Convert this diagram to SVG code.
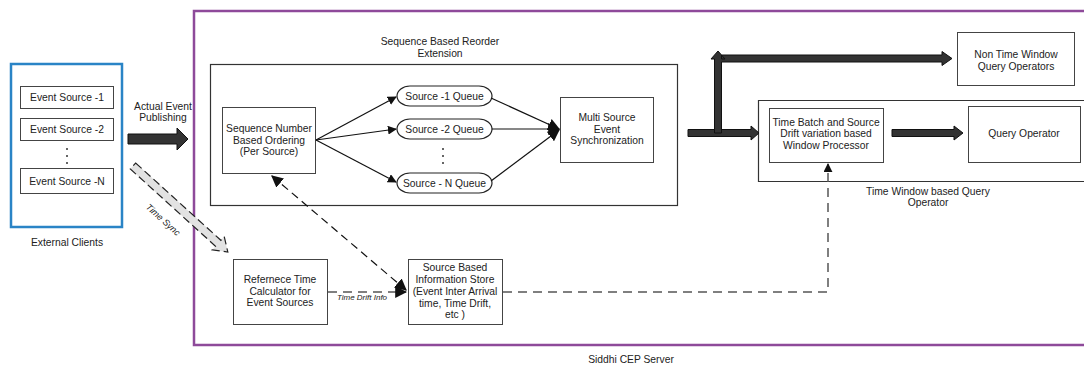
<svg xmlns="http://www.w3.org/2000/svg" width="1084" height="365" viewBox="0 0 1084 365">
<style>
text{font-family:"Liberation Sans",Arial,sans-serif;font-size:10.3px;fill:#222;text-anchor:middle}
.box{fill:#fff;stroke:#444;stroke-width:1}
.cont{fill:none;stroke:#333;stroke-width:1.2}
.q{fill:#fff;stroke:#222;stroke-width:1.2}
.ln{fill:none;stroke:#111;stroke-width:1.2}
.dash{fill:none;stroke:#111;stroke-width:1.2;stroke-dasharray:8 5}
.gdash{fill:none;stroke:#555;stroke-width:1.5;stroke-dasharray:9 6}
.fat{fill:#333;stroke:#111;stroke-width:1}
.it{font-style:italic;font-size:8px}
.ts{font-style:italic;font-size:9px}
.dot{fill:#333}
</style>
<defs>
<marker id="ah" viewBox="0 0 10 10" refX="9" refY="5" markerWidth="9" markerHeight="9" markerUnits="userSpaceOnUse" orient="auto-start-reverse"><path d="M0,0 L10,5 L0,10 z" fill="#111"/></marker>
<marker id="ahb" viewBox="0 0 10 10" refX="9" refY="5" markerWidth="12" markerHeight="12" markerUnits="userSpaceOnUse" orient="auto-start-reverse"><path d="M0,0 L10,5 L0,10 z" fill="#111"/></marker>
</defs>

<g id="server">
<path d="M1090,11 L194,11 L194,345 L1090,345" fill="none" stroke="#8e4a9a" stroke-width="2.5"/>
<text x="631" y="363">Siddhi CEP Server</text>
</g>

<g id="external-clients">
<rect x="11" y="64" width="111" height="163" fill="none" stroke="#2a84c6" stroke-width="2.5"/>
<text x="67" y="246">External Clients</text>
</g>
<g id="event-source-1"><rect class="box" x="20.5" y="86.5" width="93" height="22"/><text x="67" y="101">Event Source -1</text></g>
<g id="event-source-2"><rect class="box" x="20.5" y="118.5" width="93" height="22"/><text x="67" y="133">Event Source -2</text></g>
<g id="event-dots"><circle class="dot" cx="67" cy="149" r="1"/><circle class="dot" cx="67" cy="156" r="1"/><circle class="dot" cx="67" cy="163" r="1"/></g>
<g id="event-source-n"><rect class="box" x="20.5" y="168.5" width="93" height="25"/><text x="67" y="185">Event Source -N</text></g>

<g id="reorder-extension">
<rect class="cont" x="210.5" y="64.5" width="467" height="141"/>
<text x="440" y="45">Sequence Based Reorder</text>
<text x="440" y="57">Extension</text>
</g>
<g id="seq-ordering"><rect class="box" x="222.5" y="107.5" width="93" height="66"/>
<text x="269" y="132">Sequence Number</text><text x="269" y="144">Based Ordering</text><text x="269" y="155">(Per Source)</text></g>
<g id="queue-1"><rect class="q" x="397" y="86" width="95" height="20" rx="13" ry="10"/><text x="444.5" y="100">Source -1 Queue</text></g>
<g id="queue-2"><rect class="q" x="397" y="119" width="95" height="20" rx="13" ry="10"/><text x="444.5" y="133">Source -2 Queue</text></g>
<g id="queue-dots"><circle class="dot" cx="443" cy="149" r="1"/><circle class="dot" cx="443" cy="156" r="1"/><circle class="dot" cx="443" cy="163" r="1"/></g>
<g id="queue-n"><rect class="q" x="397" y="173" width="95" height="20" rx="13" ry="10"/><text x="444.5" y="187">Source - N Queue</text></g>
<g id="multi-source"><rect class="box" x="560.5" y="97.5" width="93" height="65"/>
<text x="607" y="121">Multi Source</text><text x="607" y="133">Event</text><text x="607" y="144">Synchronization</text></g>

<g id="non-time-window"><rect class="box" x="957.5" y="32.5" width="117" height="53"/>
<text x="1016" y="58">Non Time Window</text><text x="1016" y="70">Query Operators</text></g>

<g id="time-window-operator">
<path class="cont" d="M1090,100.5 L758.5,100.5 L758.5,181.5 L1090,181.5"/>
<text x="928" y="195">Time Window based Query</text>
<text x="928" y="206">Operator</text>
</g>
<g id="time-batch"><rect class="box" x="769.5" y="108.5" width="114" height="54"/>
<text x="826" y="126">Time Batch and Source</text><text x="826" y="137">Drift variation based</text><text x="826" y="149">Window Processor</text></g>
<g id="query-operator"><rect class="box" x="968.5" y="106.5" width="112" height="56"/><text x="1024" y="137">Query Operator</text></g>

<g id="ref-time"><rect class="box" x="233.5" y="259.5" width="94" height="65"/>
<text x="280" y="283">Refernece Time</text><text x="280" y="295">Calculator for</text><text x="280" y="306">Event Sources</text></g>
<g id="info-store"><rect class="box" x="408.5" y="259.5" width="94" height="65"/>
<text x="455" y="271">Source Based</text><text x="455" y="283">Information Store</text><text x="455" y="295">(Event Inter Arrival</text><text x="455" y="307">time, Time Drift,</text><text x="455" y="318">etc )</text></g>

<g id="connectors">
<polygon class="fat" points="128,134 177,134 177,128 188,139 177,150 177,144 128,144"/>
<text x="163" y="110">Actual Event</text>
<text x="163" y="121">Publishing</text>

<g transform="translate(133,166) rotate(42.2)">
<polygon points="0,-4 115,-4 115,-9 128,0 115,9 115,4 0,4" fill="#e2e2e2" stroke="#222" stroke-width="1.2" stroke-dasharray="8 4"/>
</g>
<text class="ts" x="0" y="0" transform="translate(161,222) rotate(42)">Time Sync</text>

<line class="ln" x1="316" y1="140" x2="396" y2="97" marker-end="url(#ah)"/>
<line class="ln" x1="316" y1="140" x2="396" y2="129" marker-end="url(#ah)"/>
<line class="ln" x1="316" y1="140" x2="396" y2="182" marker-end="url(#ah)"/>
<line class="ln" x1="491" y1="98" x2="559" y2="129" marker-end="url(#ahb)"/>
<line class="ln" x1="492" y1="129" x2="559" y2="129" marker-end="url(#ahb)"/>
<line class="ln" x1="491" y1="181" x2="559" y2="130" marker-end="url(#ahb)"/>

<polygon class="fat" points="688,129.5 751,129.5 751,126 759,133 751,140 751,136.5 688,136.5"/>
<polygon class="fat" points="714.5,133 714.5,59 711,59 718,51 725,59 721.5,59 721.5,55 942,55 942,51.5 952,58.5 942,65.5 942,62 721.5,62 721.5,133"/>
<polygon class="fat" points="892,129.5 954,129.5 954,126 963,133 954,140 954,136.5 892,136.5"/>

<line class="dash" x1="272" y1="176" x2="406" y2="290" marker-start="url(#ahb)" marker-end="url(#ahb)"/>
<line class="gdash" x1="328" y1="292" x2="406" y2="292" marker-end="url(#ahb)"/>
<text class="it" x="362" y="300">Time Drift Info</text>
<polyline class="gdash" points="503,292 828,292 828,164" marker-end="url(#ah)"/>
</g>
</svg>
